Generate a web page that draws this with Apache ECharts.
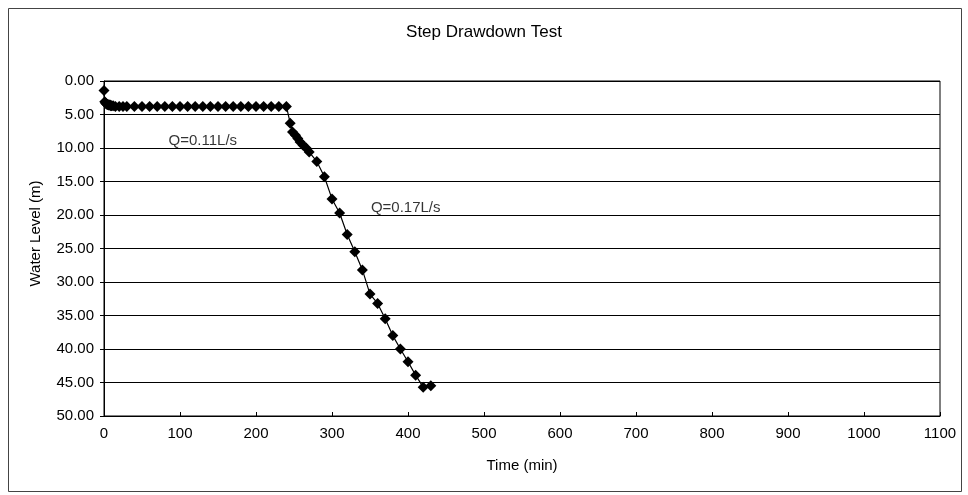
<!DOCTYPE html>
<html><head><meta charset="utf-8">
<script src="https://cdn.jsdelivr.net/npm/echarts@6/dist/echarts.min.js"></script>
<style>html,body{margin:0;padding:0;background:#fff}#c{width:968px;height:495px}</style>
</head><body><div id="c"></div>
<script>
const timeMin = [0,1,2,3,4,5,6,7,8,9,10,12,15,20,25,30,40,50,60,70,80,90,100,110,120,130,140,150,160,170,180,190,200,210,220,230,240,245,248,252,255,258,262,266,270,280,290,300,310,320,330,340,350,360,370,380,390,400,410,420,430];
const waterLevel = [1.4,3.1,3.3,3.4,3.5,3.5,3.6,3.6,3.6,3.7,3.7,3.7,3.8,3.8,3.8,3.8,3.8,3.8,3.8,3.8,3.8,3.8,3.8,3.8,3.8,3.8,3.8,3.8,3.8,3.8,3.8,3.8,3.8,3.8,3.8,3.8,3.8,6.3,7.6,8.1,8.6,9.1,9.6,10.0,10.6,12.0,14.3,17.6,19.7,22.9,25.5,28.2,31.8,33.2,35.5,38.0,40.0,41.9,43.9,45.7,45.5];
const noteText = ['Q=0.11L/s','Q=0.17L/s'];
const noteTime = [130, 397];
const noteLevel = [8.9, 19.0];
const xTicks = [0,1100,100];
const yTicks = [0,50,5];

const chart = echarts.init(document.getElementById('c'), null, {renderer:'canvas'});
const font = 'Liberation Sans, Arial, sans-serif';
chart.setOption({
  animation:false,
  backgroundColor:'#fff',
  title:{text:'Step Drawdown Test',left:'center',top:19,textStyle:{fontFamily:font,fontSize:17,fontWeight:'normal',color:'#000'}},
  graphic:[{type:'rect',shape:{x:8.5,y:8.5,width:953,height:483},style:{fill:'none',stroke:'#444',lineWidth:1},silent:true}],
  grid:{left:104,right:28,top:81,bottom:79,show:true,borderColor:'#000',borderWidth:1,backgroundColor:'transparent'},
  xAxis:{type:'value',min:xTicks[0],max:xTicks[1],interval:xTicks[2],position:'bottom',
    name:'Time (min)',nameLocation:'middle',nameGap:42,nameTextStyle:{fontFamily:font,fontSize:15,color:'#000'},
    axisLine:{onZero:false,lineStyle:{color:'#000'}},axisTick:{inside:true,length:4,lineStyle:{color:'#000'}},
    axisLabel:{fontFamily:font,fontSize:15,color:'#000',margin:10,formatter:v=>String(v)},splitLine:{show:false}},
  yAxis:{type:'value',inverse:true,min:yTicks[0],max:yTicks[1],interval:yTicks[2],
    name:'Water Level (m)',nameLocation:'middle',nameGap:61,nameTextStyle:{fontFamily:font,fontSize:15,color:'#000',padding:[0,0,0,30]},
    axisLine:{show:true,onZero:false,lineStyle:{color:'#000'}},axisTick:{show:true,length:4,lineStyle:{color:'#000'}},
    axisLabel:{fontFamily:font,fontSize:15,color:'#000',margin:10,formatter:v=>v.toFixed(2)},
    splitLine:{show:true,lineStyle:{color:'#000',width:1}}},
  series:[
    {type:'line',data:timeMin.map((t,i)=>[t,waterLevel[i]]),symbol:'diamond',symbolSize:11,
     lineStyle:{color:'#000',width:1.2},itemStyle:{color:'#000'}},
    {type:'scatter',symbolSize:0,silent:true,
     data:noteText.map((s,i)=>({value:[noteTime[i],noteLevel[i]],name:s})),
     label:{show:true,position:'inside',formatter:p=>p.name,fontFamily:font,fontSize:15,color:'#000'}}
  ]
});
</script></body></html>
